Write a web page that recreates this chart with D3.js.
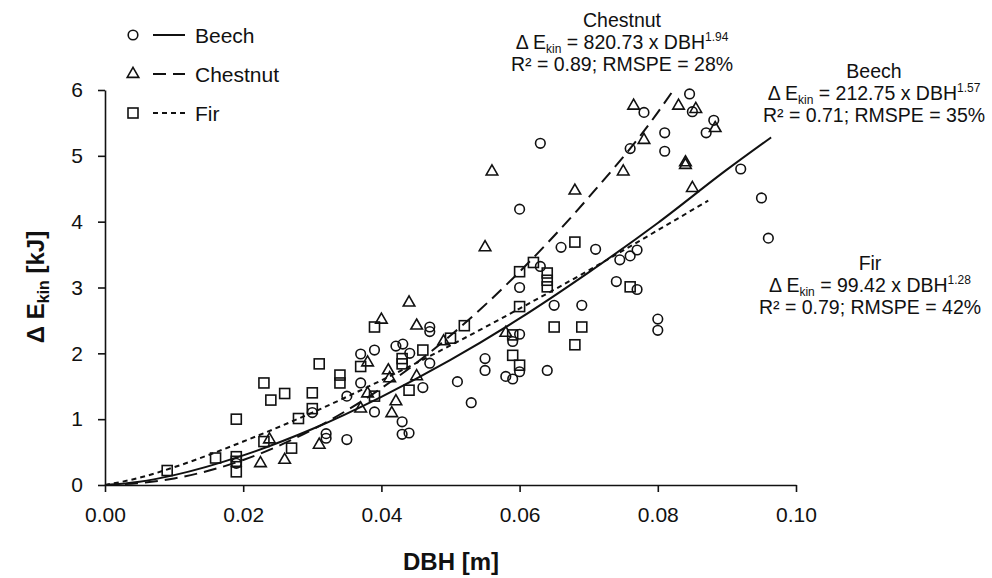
<!DOCTYPE html>
<html>
<head>
<meta charset="utf-8">
<script src="https://cdn.jsdelivr.net/npm/d3@7"></script>
<style>
body { margin: 0; background: #fff; }
text { font-family: "Liberation Sans", Arial, sans-serif; fill: #111; }
</style>
</head>
<body>
<svg width="992" height="578"></svg>
<script>
// measured points [DBH m, delta Ekin kJ]
var beechPoints = [
  [0.019, 0.33], [0.030, 1.10], [0.032, 0.78], [0.032, 0.71], [0.035, 1.35], [0.035, 0.69],
  [0.037, 1.99], [0.037, 1.55], [0.039, 2.05], [0.039, 1.11], [0.0421, 2.11], [0.0431, 2.14],
  [0.0441, 2.00], [0.047, 2.40], [0.047, 2.33], [0.047, 1.85], [0.046, 1.48], [0.043, 0.96],
  [0.043, 0.77], [0.044, 0.79], [0.051, 1.57], [0.053, 1.25], [0.055, 1.92], [0.055, 1.74],
  [0.058, 1.65], [0.059, 1.61], [0.059, 2.18], [0.060, 2.29], [0.060, 1.72], [0.060, 3.00],
  [0.060, 4.19], [0.063, 5.19], [0.063, 3.32], [0.064, 1.74], [0.065, 2.73], [0.069, 2.73],
  [0.066, 3.61], [0.071, 3.58], [0.0745, 3.42], [0.076, 3.48], [0.077, 3.57], [0.074, 3.09],
  [0.077, 2.97], [0.080, 2.52], [0.080, 2.35], [0.076, 5.11], [0.078, 5.66], [0.0846, 5.94],
  [0.085, 5.67], [0.0881, 5.54], [0.087, 5.35], [0.081, 5.35], [0.081, 5.07], [0.092, 4.80],
  [0.095, 4.36], [0.096, 3.75]
];
var chestnutPoints = [
  [0.0225, 0.33], [0.026, 0.38], [0.0238, 0.69], [0.031, 0.61], [0.037, 1.16], [0.038, 1.39],
  [0.038, 1.86], [0.040, 2.51], [0.044, 2.77], [0.0451, 2.42], [0.041, 1.74], [0.0412, 1.62],
  [0.0451, 1.65], [0.0421, 1.27], [0.0415, 1.09], [0.049, 2.18], [0.058, 2.31], [0.055, 3.61],
  [0.056, 4.76], [0.068, 4.47], [0.075, 4.76], [0.078, 5.24], [0.0765, 5.76], [0.083, 5.76],
  [0.0855, 5.71], [0.0883, 5.42], [0.084, 4.90], [0.084, 4.86], [0.085, 4.51]
];
var firPoints = [
  [0.009, 0.22], [0.016, 0.41], [0.019, 1.00], [0.019, 0.43], [0.019, 0.36], [0.019, 0.20],
  [0.023, 1.55], [0.024, 1.29], [0.026, 1.39], [0.023, 0.66], [0.027, 0.56], [0.028, 1.01],
  [0.030, 1.40], [0.030, 1.16], [0.031, 1.84], [0.034, 1.67], [0.034, 1.55], [0.037, 1.80],
  [0.039, 2.40], [0.039, 1.35], [0.043, 1.92], [0.043, 1.84], [0.044, 1.44], [0.046, 2.05],
  [0.050, 2.23], [0.052, 2.42], [0.059, 2.28], [0.059, 1.97], [0.060, 1.82], [0.060, 3.24],
  [0.060, 2.71], [0.062, 3.38], [0.064, 3.22], [0.064, 3.11], [0.064, 3.01], [0.065, 2.40],
  [0.069, 2.40], [0.068, 2.13], [0.068, 3.69], [0.076, 3.01]
];

// fitted curves
var curveDBH      = [0, 0.005, 0.01, 0.02, 0.03, 0.04, 0.05, 0.06, 0.07, 0.08];
var beechCurve    = [0, 0.05, 0.15, 0.45, 0.85, 1.34, 1.90, 2.53, 3.23, 3.98];
var chestnutCurve = [0, 0.03, 0.10, 0.38, 0.84, 1.47, 2.27, 3.24, 4.37, 5.66];
var firCurve      = [0, 0.11, 0.27, 0.66, 1.10, 1.59, 2.12, 2.68, 3.26, 3.87];
var beechEnd = [[0.09, 4.79], [0.0964, 5.28]];
var chestnutEnd = [[0.082, 5.96]];
var firEnd = [[0.0873, 4.32]];

var xTicks = [0, 0.02, 0.04, 0.06, 0.08, 0.10];
var yTicks = [0, 1, 2, 3, 4, 5, 6];

var species = ["Beech", "Chestnut", "Fir"];
var fitCoef = ["212.75", "820.73", "99.42"];
var fitExp = ["1.57", "1.94", "1.28"];
var fitStats = ["R² = 0.71; RMSPE = 35%", "R² = 0.89; RMSPE = 28%", "R² = 0.79; RMSPE = 42%"];

var svg = d3.select("svg");
var x = d3.scaleLinear().domain([0, 0.1]).range([105, 796]);
var y = d3.scaleLinear().domain([0, 6]).range([485, 90]);

// axes
var xAxis = svg.append("g")
  .attr("transform", "translate(0," + y(0) + ")")
  .call(d3.axisBottom(x).tickValues(xTicks).tickFormat(d3.format(".2f"))
    .tickSize(7).tickSizeOuter(0).tickPadding(15));
var yAxis = svg.append("g")
  .attr("transform", "translate(" + x(0) + ",0)")
  .call(d3.axisLeft(y).tickValues(yTicks).tickFormat(d3.format("d"))
    .tickSize(7).tickSizeOuter(0).tickPadding(15));

[xAxis, yAxis].forEach(function(g) {
  g.attr("font-family", null).attr("font-size", 21);
  g.selectAll("path, line").attr("stroke", "#111").attr("stroke-width", 1.6);
  g.selectAll("text").attr("fill", "#111");
});

svg.append("text")
  .attr("x", 451).attr("y", 570)
  .attr("text-anchor", "middle")
  .attr("font-size", 24).attr("font-weight", "bold")
  .text("DBH [m]");

var yTitle = svg.append("text")
  .attr("transform", "translate(44,287) rotate(-90)")
  .attr("text-anchor", "middle")
  .attr("font-size", 24).attr("font-weight", "bold");
yTitle.append("tspan").text("Δ E");
yTitle.append("tspan").attr("font-size", 16).attr("dy", 5).text("kin");
yTitle.append("tspan").attr("dy", -5).text(" [kJ]");

// curves
var line = d3.line()
  .x(function(d) { return x(d[0]); })
  .y(function(d) { return y(d[1]); })
  .curve(d3.curveMonotoneX);

function curvePoints(vals, tail) {
  return curveDBH.map(function(d, i) { return [d, vals[i]]; }).concat(tail);
}

var curves = [
  { pts: curvePoints(beechCurve, beechEnd), dash: null },
  { pts: curvePoints(chestnutCurve, chestnutEnd), dash: "13,7" },
  { pts: curvePoints(firCurve, firEnd), dash: "5,4" }
];
curves.forEach(function(c) {
  svg.append("path")
    .attr("d", line(c.pts))
    .attr("fill", "none")
    .attr("stroke", "#111")
    .attr("stroke-width", 2)
    .attr("stroke-dasharray", c.dash);
});

// markers
function drawCircle(g, cx, cy) {
  g.append("circle").attr("cx", cx).attr("cy", cy).attr("r", 4.8);
}
function drawTriangle(g, cx, cy) {
  g.append("path").attr("transform", "translate(" + cx + "," + cy + ")")
    .attr("d", d3.symbol(d3.symbolTriangle, 58)());
}
function drawSquare(g, cx, cy) {
  g.append("rect").attr("x", cx - 5).attr("y", cy - 5).attr("width", 10).attr("height", 10);
}

var marks = svg.append("g")
  .attr("fill", "none").attr("stroke", "#111").attr("stroke-width", 1.6);
beechPoints.forEach(function(d) { drawCircle(marks, x(d[0]), y(d[1])); });
chestnutPoints.forEach(function(d) { drawTriangle(marks, x(d[0]), y(d[1])); });
firPoints.forEach(function(d) { drawSquare(marks, x(d[0]), y(d[1])); });

// legend
var legendDash = [null, "13,7", "5,4"];
var legendMark = [drawCircle, drawTriangle, drawSquare];
species.forEach(function(s, i) {
  var ly = 35 + i * 39;
  legendMark[i](marks, 133, ly);
  svg.append("line")
    .attr("x1", 153).attr("x2", 185).attr("y1", ly).attr("y2", ly)
    .attr("stroke", "#111").attr("stroke-width", 2)
    .attr("stroke-dasharray", legendDash[i]);
  svg.append("text")
    .attr("x", 195).attr("y", ly + 8)
    .attr("font-size", 21)
    .text(s);
});

// fit annotations
var notePos = [[874, 78], [622, 27], [870, 270]];
species.forEach(function(s, i) {
  var cx = notePos[i][0], by = notePos[i][1];
  var g = svg.append("g").attr("text-anchor", "middle").attr("font-size", 19.5);
  g.append("text").attr("x", cx).attr("y", by).text(s);
  var eq = g.append("text").attr("x", cx).attr("y", by + 22);
  eq.append("tspan").text("Δ E");
  eq.append("tspan").attr("font-size", 12).attr("dy", 4).text("kin");
  eq.append("tspan").attr("dy", -4).text(" = " + fitCoef[i] + " x DBH");
  eq.append("tspan").attr("font-size", 12).attr("dy", -8).text(fitExp[i]);
  g.append("text").attr("x", cx).attr("y", by + 44).text(fitStats[i]);
});
</script>
</body>
</html>
